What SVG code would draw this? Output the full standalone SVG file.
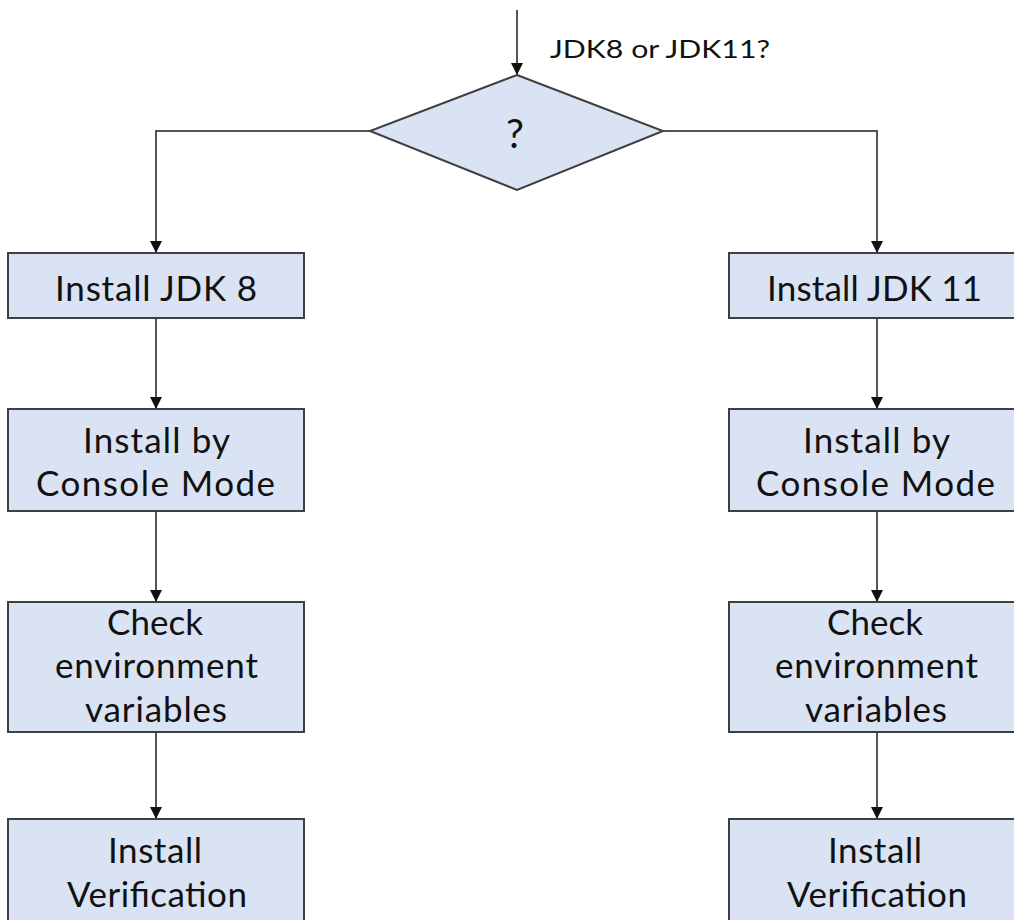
<svg xmlns="http://www.w3.org/2000/svg" width="1014" height="920" viewBox="0 0 1014 920">
<defs>
<marker id="ah" markerUnits="userSpaceOnUse" markerWidth="12" markerHeight="12" refX="12" refY="6" orient="auto"><path d="M0,0 L12,6 L0,12 z" fill="#111"/></marker>
<style>
.box{fill:#dae3f3;stroke:#3f3f3f;stroke-width:2}
.conn{fill:none;stroke:#555;stroke-width:2;marker-end:url(#ah)}
.t{font-family:Lato,"Noto Sans","Liberation Sans",sans-serif;font-size:35px;fill:#111}
.lbl{font-size:25px}
.q{font-size:40px}
</style>
</defs>
<rect width="1014" height="920" fill="#fff"/>
<g id="connectors">
<path class="conn" d="M517,10 V75"/>
<path class="conn" d="M370,131 H156 V253"/>
<path class="conn" d="M663,131 H877 V253"/>
<path class="conn" d="M156,318 V409"/>
<path class="conn" d="M156,511 V602"/>
<path class="conn" d="M156,732 V819"/>
<path class="conn" d="M877,318 V409"/>
<path class="conn" d="M877,511 V602"/>
<path class="conn" d="M877,732 V819"/>
</g>
<text class="t lbl" x="550" y="58" textLength="220" lengthAdjust="spacingAndGlyphs">JDK8 or JDK11?</text>
<g id="decision">
<polygon class="box" points="517,75 663,131 517,190 370,131"/>
<text class="t q" x="515" y="148" text-anchor="middle">?</text>
</g>
<g id="l1">
<rect class="box" x="8" y="253" width="296" height="65"/>
<text class="t" x="55" y="301" textLength="202" lengthAdjust="spacing">Install JDK 8</text>
</g>
<g id="l2">
<rect class="box" x="8" y="409" width="296" height="102"/>
<text class="t" x="83" y="453" textLength="147" lengthAdjust="spacing">Install by</text>
<text class="t" x="36" y="496" textLength="239" lengthAdjust="spacing">Console Mode</text>
</g>
<g id="l3">
<rect class="box" x="8" y="602" width="296" height="130"/>
<text class="t" x="107" y="635" textLength="96" lengthAdjust="spacing">Check</text>
<text class="t" x="55" y="678" textLength="203" lengthAdjust="spacing">environment</text>
<text class="t" x="85" y="722" textLength="142" lengthAdjust="spacing">variables</text>
</g>
<g id="l4">
<rect class="box" x="8" y="819" width="296" height="130"/>
<text class="t" x="108" y="863" textLength="94" lengthAdjust="spacing">Install</text>
<text class="t" x="67" y="907" textLength="180" lengthAdjust="spacing">Verification</text>
</g>
<g id="r1">
<rect class="box" x="729" y="253" width="296" height="65"/>
<text class="t" x="767" y="301" textLength="215" lengthAdjust="spacing">Install JDK 11</text>
</g>
<g id="r2">
<rect class="box" x="729" y="409" width="296" height="102"/>
<text class="t" x="803" y="453" textLength="147" lengthAdjust="spacing">Install by</text>
<text class="t" x="756" y="496" textLength="239" lengthAdjust="spacing">Console Mode</text>
</g>
<g id="r3">
<rect class="box" x="729" y="602" width="296" height="130"/>
<text class="t" x="827" y="635" textLength="96" lengthAdjust="spacing">Check</text>
<text class="t" x="775" y="678" textLength="203" lengthAdjust="spacing">environment</text>
<text class="t" x="805" y="722" textLength="142" lengthAdjust="spacing">variables</text>
</g>
<g id="r4">
<rect class="box" x="729" y="819" width="296" height="130"/>
<text class="t" x="828" y="863" textLength="94" lengthAdjust="spacing">Install</text>
<text class="t" x="787" y="907" textLength="180" lengthAdjust="spacing">Verification</text>
</g>
</svg>
